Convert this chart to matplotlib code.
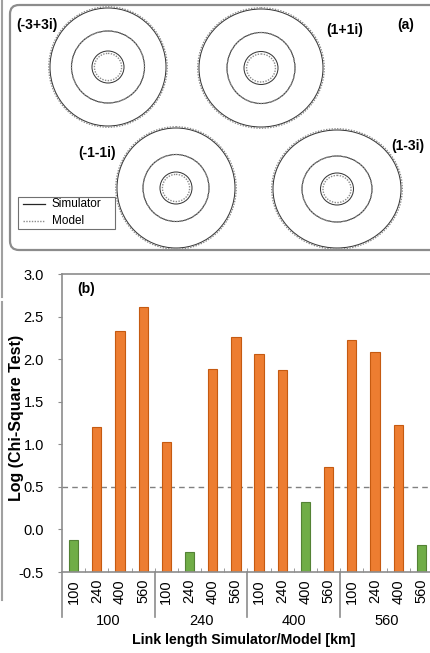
import numpy as np
import matplotlib
matplotlib.use('Agg')
import matplotlib.pyplot as plt
from matplotlib.patches import Ellipse, FancyBboxPatch
from matplotlib.lines import Line2D

plt.rcParams['font.family'] = ['Liberation Sans', 'DejaVu Sans']

# Panel (a): ring layout of the four constellation points
point_labels = ['(-3+3i)', '(1+1i)', '(-1-1i)', '(1-3i)']
center_x = [108, 261, 176, 337]
center_y = [67, 68, 188, 189]
ring_rx = [[58, 36.5, 16], [62, 34, 17], [59, 33, 16], [64, 35, 16.5]]
ring_ry = [[59, 36, 16], [59, 35.5, 16.5], [60, 33.5, 16], [59, 33, 16]]
model_scale = [1.02, 1.0, 0.85]
label_x = [37, 345, 97, 408]
label_y = [25, 30, 153, 146]

# Panel (b): chi-square results
groups = ['100', '240', '400', '560']
sub_labels = ['100', '240', '400', '560'] * 4
log_chi = [-0.12, 1.20, 2.33, 2.61,
           1.03, -0.26, 1.88, 2.26,
           2.06, 1.87, 0.32, 0.735,
           2.22, 2.08, 1.23, -0.18]
threshold = 0.5

W, H = 431, 653
fig = plt.figure(figsize=(W / 100, H / 100), dpi=100)

# ---- panel (a)
ax_a = fig.add_axes([0, 1 - 255 / H, 1, 255 / H])
ax_a.set_xlim(0, W)
ax_a.set_ylim(255, 0)
ax_a.axis('off')

frame = FancyBboxPatch((10, 5), 450, 245, boxstyle='round,pad=0,rounding_size=9',
                       facecolor='none', edgecolor='#8c8c8c', linewidth=1.6)
ax_a.add_patch(frame)

for i in range(len(point_labels)):
    for k in range(3):
        rx, ry = ring_rx[i][k], ring_ry[i][k]
        ax_a.add_patch(Ellipse((center_x[i], center_y[i]), 2 * rx, 2 * ry,
                               facecolor='none', edgecolor='#3a3a3a', linewidth=0.75))
        s = model_scale[k]
        ax_a.add_patch(Ellipse((center_x[i], center_y[i]), 2 * rx * s, 2 * ry * s,
                               facecolor='none', edgecolor='#8a8a8a', linewidth=1.0,
                               linestyle=(0, (1, 1))))
    ax_a.text(label_x[i], label_y[i], point_labels[i], fontsize=10, fontweight='bold',
              ha='center', va='center')
ax_a.text(406, 25, '(a)', fontsize=10, fontweight='bold', ha='center', va='center')

# legend
ax_a.add_patch(plt.Rectangle((18, 197), 97, 32, facecolor='white',
                             edgecolor='#707070', linewidth=0.8))
ax_a.plot([23, 45], [204, 204], color='#262626', linewidth=0.9)
ax_a.plot([23, 45], [221, 221], color='#8a8a8a', linewidth=1.0, linestyle=(0, (1, 1)))
ax_a.text(52, 204, 'Simulator', fontsize=8.5, va='center')
ax_a.text(52, 221, 'Model', fontsize=8.5, va='center')

# thin gray line at the far left
fig.add_artist(Line2D([2 / W, 2 / W], [1, 1 - 297 / H], transform=fig.transFigure,
                      color='#a0a0a0', linewidth=1.5))
fig.add_artist(Line2D([2 / W, 2 / W], [1 - 302 / H, 1 - 600 / H], transform=fig.transFigure,
                      color='#a0a0a0', linewidth=1.5))

# ---- panel (b)
ax = fig.add_axes([62 / W, 81 / H, 371 / W, 298 / H])
x = np.arange(len(log_chi))
vals = np.array(log_chi)
good = vals < threshold
face = np.where(good, '#70AD47', '#ED7D31')
edge = np.where(good, '#548235', '#C55A11')
ax.bar(x, vals + 0.5, bottom=-0.5, width=0.4, color=face, edgecolor=edge, linewidth=0.8,
       zorder=2)
ax.axhline(threshold, color='#808080', linewidth=1, linestyle=(0, (4, 3)), zorder=1)

ax.set_xlim(-0.5, len(log_chi) - 0.5)
ax.set_ylim(-0.5, 3.0)
ax.set_yticks(np.arange(-0.5, 3.01, 0.5))
ax.set_yticklabels(['%.1f' % v for v in np.arange(-0.5, 3.01, 0.5)], fontsize=10.5)
ax.tick_params(axis='y', length=3, color='#8c8c8c', pad=10)

ax.set_xticks(x)
ax.set_xticklabels(sub_labels, rotation=90, fontsize=10.5)
ax.tick_params(axis='x', which='major', length=0, pad=5)
ax.set_xticks(np.arange(0.5, len(log_chi) - 0.5, 1), minor=True)
ax.tick_params(axis='x', which='minor', direction='in', length=3, color='#8c8c8c')

for side in ['left', 'top', 'bottom']:
    ax.spines[side].set_color('#8c8c8c')
    ax.spines[side].set_linewidth(1.2)
ax.spines['right'].set_visible(False)

# group separators and group labels
trans = ax.get_xaxis_transform()
for g in range(len(groups) + 1):
    xs = g * 4 - 0.5
    ax.plot([xs, xs], [0, -45 / 298], color='#8c8c8c', linewidth=1.2,
            transform=trans, clip_on=False)
for g, name in enumerate(groups):
    ax.text(g * 4 + 1.5, -49 / 298, name, transform=trans, ha='center', va='center',
            fontsize=10.5)

fig.text(77 / W, 1 - 289 / H, '(b)', fontsize=10, fontweight='bold', va='center')

fig.text(244 / W, 1 - 640 / H, 'Link length Simulator/Model [km]', fontsize=10.2,
         fontweight='bold', ha='center', va='center')
fig.text(17 / W, 1 - 418 / H, 'Log (Chi-Square Test)', fontsize=11.5,
         fontweight='bold', ha='center', va='center', rotation=90)

fig.savefig('out.png', dpi=100)
